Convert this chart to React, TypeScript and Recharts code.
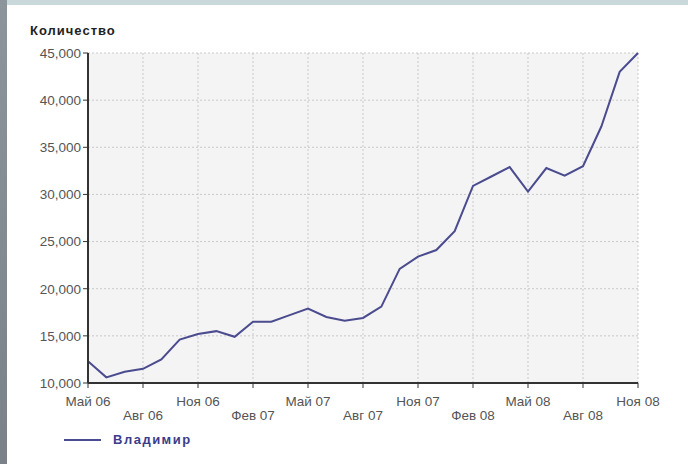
import { LineChart, Line, XAxis, YAxis, CartesianGrid } from "recharts";

const months = [
  "Май 06", "Июн 06", "Июл 06", "Авг 06", "Сен 06", "Окт 06",
  "Ноя 06", "Дек 06", "Янв 07", "Фев 07", "Мар 07", "Апр 07",
  "Май 07", "Июн 07", "Июл 07", "Авг 07", "Сен 07", "Окт 07",
  "Ноя 07", "Дек 07", "Янв 08", "Фев 08", "Мар 08", "Апр 08",
  "Май 08", "Июн 08", "Июл 08", "Авг 08", "Сен 08", "Окт 08",
  "Ноя 08",
];

const vladimir = [
  12300, 10600, 11200, 11500, 12500, 14600,
  15200, 15500, 14900, 16500, 16500, 17200,
  17900, 17000, 16600, 16900, 18100, 22100,
  23400, 24100, 26100, 30900, 31900, 32900,
  30300, 32800, 32000, 33000, 37200, 43000,
  45000,
];

const yTicks = [10000, 15000, 20000, 25000, 30000, 35000, 40000, 45000];

const data = months.map((m, i) => ({ month: m, value: vladimir[i] }));

const font = "'Liberation Sans', Arial, sans-serif";

function XTick(props: any) {
  const { x, y, payload } = props;
  const v: string = payload.value;
  const lower = v.startsWith("Авг") || v.startsWith("Фев");
  return (
    <text
      x={x}
      y={y + (lower ? 30 : 16)}
      textAnchor="middle"
      fill="#555"
      fontSize={13.5}
      fontFamily={font}
    >
      {v}
    </text>
  );
}

export default function App() {
  return (
    <div
      style={{
        position: "absolute",
        left: 0,
        top: 0,
        width: 688,
        height: 464,
        background: "#fff",
        overflow: "hidden",
      }}
    >
      <div style={{ position: "absolute", left: 0, top: 0, width: 688, height: 5, background: "#c9d9db" }} />
      <div style={{ position: "absolute", left: 0, top: 0, width: 7, height: 464, background: "linear-gradient(#8d959c, #7a8188)" }} />
      <div
        style={{
          position: "absolute",
          left: 30,
          top: 23,
          fontFamily: font,
          fontWeight: "bold",
          fontSize: 13,
          letterSpacing: 1,
          color: "#222",
        }}
      >
        Количество
      </div>
      <LineChart
        width={688}
        height={464}
        data={data}
        margin={{ top: 53, right: 50, left: 13, bottom: 41 }}
      >
        <CartesianGrid
          fill="#f4f4f4"
          stroke="#c9c9c9"
          strokeDasharray="2 2"
          horizontalValues={yTicks}
        />
        <XAxis
          dataKey="month"
          interval={2}
          height={40}
          tick={<XTick />}
          tickSize={5}
          axisLine={{ stroke: "#333", strokeWidth: 2 }}
          tickLine={{ stroke: "#333" }}
        />
        <YAxis
          width={75}
          domain={[10000, 45000]}
          ticks={yTicks}
          tickFormatter={(v: number) => v.toLocaleString("en-US")}
          tick={{ fill: "#555", fontSize: 13.5, fontFamily: font }}
          tickSize={5}
          axisLine={{ stroke: "#333", strokeWidth: 2 }}
          tickLine={{ stroke: "#333" }}
        />
        <Line
          type="linear"
          dataKey="value"
          name="Владимир"
          stroke="#4b4b8f"
          strokeWidth={2}
          dot={false}
          isAnimationActive={false}
        />
      </LineChart>
      <div
        style={{
          position: "absolute",
          left: 64,
          top: 432,
          display: "flex",
          alignItems: "center",
          fontFamily: font,
        }}
      >
        <div style={{ width: 37, height: 2, background: "#4b4b8f", marginRight: 12 }} />
        <span style={{ color: "#3c3c8c", fontWeight: "bold", fontSize: 13, letterSpacing: 1.5 }}>
          Владимир
        </span>
      </div>
    </div>
  );
}
